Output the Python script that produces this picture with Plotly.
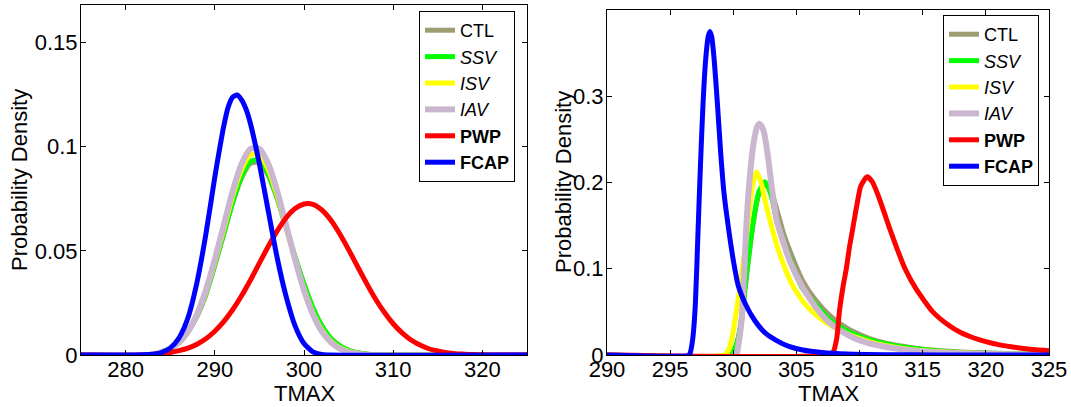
import plotly.graph_objects as go

# ---------------- left panel: values ----------------
ctl_l_x = [275, 283, 284, 285, 286, 287, 288, 289, 290, 291, 292, 293, 294, 295, 296, 297, 298,
           299, 300, 301, 302, 303, 304, 305, 306, 307, 308, 309, 325]
ctl_l_y = [0, 0, 0.0012, 0.003, 0.006, 0.011, 0.0185, 0.029, 0.043, 0.058, 0.073, 0.085, 0.092,
           0.0925, 0.086, 0.075, 0.061, 0.047, 0.034, 0.0225, 0.014, 0.008, 0.0045, 0.0023,
           0.0011, 0.0005, 0.0002, 0, 0]

ssv_l_x = [275, 283, 284, 285, 286, 287, 288, 289, 290, 291, 292, 293, 294, 295, 296, 297, 298,
           299, 300, 301, 302, 303, 304, 305, 306, 307, 308, 309, 325]
ssv_l_y = [0, 0, 0.0013, 0.0031, 0.0062, 0.0113, 0.019, 0.0295, 0.0435, 0.0585, 0.0735, 0.0857,
           0.093, 0.0935, 0.087, 0.0755, 0.0615, 0.047, 0.034, 0.0225, 0.014, 0.008, 0.0044,
           0.0022, 0.001, 0.0004, 0.0001, 0, 0]

isv_l_x = [275, 283, 284, 285, 286, 287, 288, 289, 290, 291, 292, 293, 294, 295, 296, 297, 298,
           299, 300, 301, 302, 303, 304, 305, 306, 307, 308, 325]
isv_l_y = [0, 0, 0.0013, 0.003, 0.0062, 0.0113, 0.0193, 0.0303, 0.0447, 0.0605, 0.0763, 0.089,
           0.0962, 0.0962, 0.089, 0.0766, 0.0615, 0.0457, 0.0315, 0.0202, 0.0121, 0.0067,
           0.0035, 0.0017, 0.0007, 0.0002, 0, 0]

iav_l_x = [275, 283, 284, 285, 286, 287, 288, 289, 290, 291, 292, 293, 294, 295, 296, 297, 298,
           299, 300, 301, 302, 303, 304, 305, 306, 307, 325]
iav_l_y = [0, 0, 0.0014, 0.0031, 0.0062, 0.0114, 0.0196, 0.0311, 0.0458, 0.0623, 0.0786, 0.0917,
           0.099, 0.099, 0.0917, 0.0786, 0.0623, 0.0458, 0.0311, 0.0196, 0.0114, 0.0062, 0.0031,
           0.0014, 0.0006, 0, 0]

pwp_l_x = [275, 282, 283, 284, 285, 286, 287, 288, 289, 290, 291, 292, 293, 294, 295, 296, 297,
           298, 299, 300, 301, 302, 303, 304, 305, 306, 307, 308, 309, 310, 311, 312, 313, 314,
           315, 316, 317, 318, 319, 320, 321, 325]
pwp_l_y = [0, 0, 0.0004, 0.0007, 0.0012, 0.0021, 0.0033, 0.0052, 0.0078, 0.0114, 0.016, 0.0217,
           0.0284, 0.036, 0.0441, 0.0522, 0.0596, 0.0659, 0.0703, 0.0725, 0.0723, 0.0696, 0.0648,
           0.0582, 0.0506, 0.0425, 0.0345, 0.027, 0.0205, 0.015, 0.0106, 0.0072, 0.0048, 0.003,
           0.0019, 0.0011, 0.0006, 0.0004, 0.0002, 0.0001, 0, 0]

fcap_l_x = [275, 281, 282, 283, 284, 285, 286, 287, 288, 289, 290, 290.5, 291, 291.5, 292,
            292.5, 293, 293.5, 294, 295, 296, 297, 298, 299, 300, 301, 302, 303, 325]
fcap_l_y = [0, 0, 0.0001, 0.0004, 0.0012, 0.0033, 0.0083, 0.018, 0.0348, 0.058, 0.0854, 0.098,
            0.1098, 0.119, 0.1237, 0.1248, 0.1225, 0.118, 0.111, 0.0917, 0.069, 0.0465, 0.028,
            0.014, 0.0055, 0.0015, 0.0003, 0, 0]

# ---------------- right panel: values ----------------
ctl_r_x = [290, 299.9, 300.1, 300.4, 300.8, 301.2, 301.6, 302.0, 302.4, 302.7, 303.0, 303.5,
           304.0, 304.5, 305.5, 306.5, 307.7, 309.0, 310.8, 312.0, 314.0, 316.0, 318.0, 320.0,
           325]
ctl_r_y = [0, 0, 0.004, 0.02, 0.06, 0.11, 0.155, 0.185, 0.196, 0.197, 0.19, 0.166, 0.14, 0.12,
           0.086, 0.064, 0.045, 0.031, 0.019, 0.014, 0.0088, 0.0055, 0.0035, 0.0023, 0.0009]

ssv_r_x = [290, 299.8, 300.0, 300.3, 300.66, 300.93, 301.3, 301.6, 302.0, 302.5, 303.0, 303.43,
           304.0, 304.5, 305.4, 306.5, 307.66, 309.0, 310.8, 312.0, 314.0, 316.0, 318.0, 320.0,
           325]
ssv_r_y = [0, 0, 0.004, 0.015, 0.04, 0.079, 0.125, 0.1565, 0.188, 0.201, 0.185, 0.1565, 0.13,
           0.111, 0.079, 0.059, 0.0406, 0.028, 0.0174, 0.013, 0.008, 0.005, 0.003, 0.002, 0.0008]

isv_r_x = [290, 299.3, 299.6, 299.9, 300.13, 300.53, 300.9, 301.2, 301.5, 301.85, 302.2, 302.5,
           302.9, 303.5, 304.0, 304.75, 305.8, 307.1, 308.8, 310.55, 312.0, 314.0, 316.0, 318.0,
           320.0, 325]
isv_r_y = [0, 0, 0.005, 0.02, 0.04, 0.079, 0.12, 0.1565, 0.195, 0.2125, 0.2, 0.18, 0.1565,
           0.125, 0.104, 0.079, 0.057, 0.04, 0.026, 0.0165, 0.011, 0.0065, 0.004, 0.0025,
           0.0015, 0.0005]

iav_r_x = [290, 300.2, 300.4, 300.66, 301.06, 301.3, 301.6, 301.9, 302.1, 302.4, 302.7, 303.0,
           303.43, 304.5, 305.55, 306.5, 307.5, 308.5, 309.5, 310.5, 312.0, 314.0, 316.0, 318.0,
           320.0, 325]
iav_r_y = [0, 0, 0.012, 0.0406, 0.1565, 0.205, 0.245, 0.265, 0.268, 0.26, 0.235, 0.2, 0.1565,
           0.108, 0.077, 0.056, 0.039, 0.028, 0.02, 0.0145, 0.0095, 0.0055, 0.0033, 0.002,
           0.0012, 0.0004]

pwp_r_x = [290, 307.6, 307.9, 308.2, 308.4, 308.7, 308.95, 309.2, 309.5, 309.8, 310.1, 310.6,
           311.0, 311.5, 312.0, 312.3, 313.0, 313.6, 314.5, 315.8, 317.0, 318.0, 319.0, 320.0,
           321.0, 322.0, 323.0, 324.0, 325]
pwp_r_y = [0, 0, 0.003, 0.02, 0.05, 0.08, 0.1, 0.125, 0.15, 0.175, 0.196, 0.2066, 0.201, 0.184,
           0.163, 0.15, 0.122, 0.1, 0.076, 0.05, 0.035, 0.026, 0.02, 0.0155, 0.012, 0.0095,
           0.0075, 0.006, 0.005]

fcap_r_x = [290, 296.5, 296.6, 296.8, 297.0, 297.2, 297.4, 297.6, 297.8, 298.0, 298.15, 298.3,
            298.5, 298.75, 299.0, 299.25, 299.5, 300.0, 300.4, 301.0, 301.7, 302.5, 303.4,
            304.4, 305.5, 307.0, 309.0, 312.0, 316.0, 325]
fcap_r_y = [0, 0, 0.003, 0.02, 0.06, 0.14, 0.22, 0.29, 0.34, 0.368, 0.375, 0.368, 0.34, 0.29,
            0.235, 0.19, 0.16, 0.11, 0.08, 0.058, 0.04, 0.026, 0.017, 0.01, 0.0058, 0.003,
            0.0012, 0.0004, 0.0001, 0]

names = ["CTL", "<i>SSV</i>", "<i>ISV</i>", "<i>IAV</i>", "<b>PWP</b>", "<b>FCAP</b>"]
colors = ["#9c9c70", "#00ff00", "#ffff00", "#cab6cf", "#ff0000", "#0000ff"]
widths = [5, 5, 5, 6, 5, 5]

left = [(ctl_l_x, ctl_l_y), (ssv_l_x, ssv_l_y), (isv_l_x, isv_l_y), (iav_l_x, iav_l_y),
        (pwp_l_x, pwp_l_y), (fcap_l_x, fcap_l_y)]
right = [(ctl_r_x, ctl_r_y), (ssv_r_x, ssv_r_y), (isv_r_x, isv_r_y), (iav_r_x, iav_r_y),
         (pwp_r_x, pwp_r_y), (fcap_r_x, fcap_r_y)]

FONT = "Liberation Sans, Arial, sans-serif"

fig = go.Figure()
for i, (xs, ys) in enumerate(left):
    fig.add_trace(go.Scatter(x=xs, y=ys, mode="lines", name=names[i], legend="legend",
                             line=dict(color=colors[i], width=widths[i], shape="spline", smoothing=0.6),
                             xaxis="x", yaxis="y"))
for i, (xs, ys) in enumerate(right):
    fig.add_trace(go.Scatter(x=xs, y=ys, mode="lines", name=names[i], legend="legend2",
                             line=dict(color=colors[i], width=widths[i], shape="spline", smoothing=0.6),
                             xaxis="x2", yaxis="y2"))

W, H = 1071, 407


def axis(standoff, **kw):
    d = dict(showline=True, linecolor="black", linewidth=1, mirror="ticks", ticks="inside",
             ticklen=5, tickcolor="black", showgrid=False, zeroline=False, automargin=False,
             ticklabelstandoff=standoff, tickfont=dict(family=FONT, size=22, color="black"))
    d.update(kw)
    return d


legend_style = dict(xanchor="left", yanchor="top", bgcolor="white", bordercolor="black",
                    borderwidth=1, font=dict(family=FONT, size=18, color="black"),
                    tracegroupgap=0, itemwidth=30)

title_font = dict(family=FONT, size=22, color="black")
titles = [
    dict(text="TMAX", x=(81 + 527) / 2 / W, y=1 - 393 / H, textangle=0),
    dict(text="TMAX", x=(607 + 1049) / 2 / W, y=1 - 393 / H, textangle=0),
    dict(text="Probability Density", x=19 / W, y=1 - 180 / H, textangle=-90),
    dict(text="Probability Density", x=563 / W, y=1 - 182 / H, textangle=-90),
]

fig.update_layout(
    width=W, height=H,
    margin=dict(l=0, r=0, t=0, b=0, autoexpand=False),
    paper_bgcolor="white", plot_bgcolor="white",
    font=dict(family=FONT, color="black"),
    xaxis=axis(-5, domain=[81 / W, 527 / W], range=[275, 325],
               tickvals=[280, 290, 300, 310, 320], anchor="y"),
    yaxis=axis(-2, domain=[52 / H, 402 / H], range=[0, 0.168],
               tickvals=[0, 0.05, 0.1, 0.15], ticktext=["0", "0.05", "0.1", "0.15"], anchor="x"),
    xaxis2=axis(-5, domain=[607 / W, 1049 / W], range=[290, 325],
                tickvals=[290, 295, 300, 305, 310, 315, 320, 325], anchor="y2"),
    yaxis2=axis(-2, domain=[52 / H, 397 / H], range=[0, 0.4],
                tickvals=[0, 0.1, 0.2, 0.3, 0.4], ticktext=["0", "0.1", "0.2", "0.3", "0.4"],
                anchor="x2"),
    legend=dict(legend_style, x=419 / W, y=1 - 11 / H),
    legend2=dict(legend_style, x=943 / W, y=1 - 15 / H),
    annotations=[dict(t, xref="paper", yref="paper", xanchor="center", yanchor="middle",
                      showarrow=False, font=title_font) for t in titles],
)

fig.write_html("out.html", config={"displayModeBar": False},
               post_script="document.body.style.margin = '0px';")
